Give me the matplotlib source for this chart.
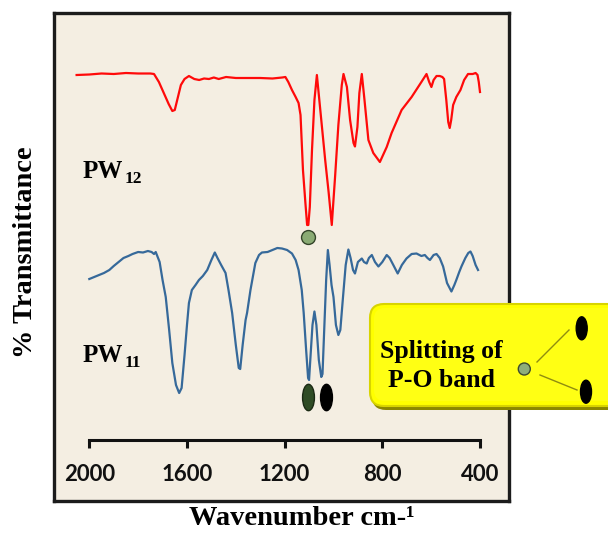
import matplotlib
matplotlib.use("Agg")
import matplotlib.pyplot as plt
from matplotlib.patches import FancyBboxPatch, Circle, Ellipse
from matplotlib.lines import Line2D
from matplotlib.path import Path
from matplotlib.transforms import IdentityTransform
import numpy as np

# ---------------- data ----------------
red_wn = [2052, 2000, 1950, 1900, 1850, 1800, 1750, 1735, 1715, 1695, 1675, 1660, 1650, 1640,
          1625, 1610, 1592, 1570, 1550, 1530, 1510, 1490, 1470, 1440, 1400, 1350, 1300, 1250,
          1210, 1197, 1185, 1170, 1155, 1143, 1135, 1125, 1115, 1108, 1103, 1097, 1088, 1078,
          1068, 1060, 1048, 1034, 1020, 1007, 1000, 993, 980, 966, 959, 945, 932, 918, 912,
          902, 894, 884, 873, 857, 837, 810, 782, 762, 721, 680, 640, 619, 608, 599, 590, 578,
          565, 554, 547, 538, 530, 524, 518, 510, 497, 480, 465, 449, 430, 418, 410, 405, 400]
red_T = [88.0, 88.1, 88.3, 88.2, 88.4, 88.3, 88.3, 88.2, 86.6, 84.4, 82.2, 80.8, 81.0, 83.0,
         86.0, 87.2, 87.8, 87.2, 87.0, 87.3, 87.2, 87.5, 87.2, 87.6, 87.4, 87.4, 87.4, 87.3,
         87.5, 87.6, 86.6, 85.0, 83.6, 82.4, 80.0, 69.0, 62.4, 58.0, 58.0, 61.6, 73.0, 83.0,
         88.0, 84.0, 78.0, 71.0, 64.6, 58.0, 63.0, 68.0, 78.0, 86.0, 88.2, 85.6, 79.0, 74.4, 73.7,
         77.6, 84.4, 88.2, 83.0, 75.0, 72.4, 70.6, 73.6, 76.4, 81.0, 83.6, 86.6, 88.2, 86.6, 85.6, 87.0, 87.8,
         87.8, 87.6, 87.2, 83.0, 78.6, 77.4, 79.0, 82.0, 83.6, 85.0, 87.0, 88.2, 88.2, 88.4, 88.0, 86.6, 84.6]

blue_wn = [2000, 1980, 1960, 1940, 1918, 1900, 1880, 1860, 1840, 1823, 1800, 1780, 1760, 1745,
           1735, 1728, 1712, 1700, 1687, 1673, 1660, 1645, 1632, 1622, 1610, 1600, 1592, 1580,
           1565, 1551, 1535, 1517, 1500, 1486, 1475, 1460, 1442, 1430, 1415, 1400, 1388, 1382,
           1372, 1360, 1354, 1340, 1320, 1305, 1293, 1270, 1250, 1230, 1211, 1190, 1170, 1155,
           1143, 1130, 1122, 1112, 1104, 1100, 1095, 1086, 1078, 1070, 1060, 1050, 1045, 1038,
           1030, 1023, 1016, 1008, 1000, 990, 980, 972, 962, 950, 939, 930, 920, 912, 900, 884,
           875, 864, 855, 843, 830, 816, 800, 782, 770, 755, 737, 720, 701, 680, 660, 640, 626,
           615, 605, 590, 578, 565, 551, 535, 517, 505, 497, 485, 476, 460, 448, 439, 430, 418, 408]
blue_T = [47.2, 47.6, 48.0, 48.4, 49.0, 49.8, 50.6, 51.4, 51.8, 52.2, 52.6, 52.5, 52.8, 52.6,
          52.2, 52.6, 50.6, 47.0, 43.6, 37.0, 30.4, 26.0, 24.4, 25.4, 32.0, 38.0, 42.4, 45.0,
          46.0, 47.0, 47.8, 49.0, 51.0, 52.5, 51.4, 50.0, 48.4, 45.0, 40.4, 34.0, 29.4, 29.2,
          34.0, 39.0, 40.4, 45.0, 50.4, 52.0, 52.5, 52.6, 53.0, 53.4, 53.3, 53.0, 52.3, 51.0,
          49.0, 45.0, 40.4, 33.0, 27.4, 27.0, 31.0, 38.0, 40.7, 38.0, 31.0, 27.6, 28.2, 37.0,
          47.0, 53.0, 50.0, 46.0, 43.6, 38.0, 36.0, 37.0, 43.0, 50.0, 53.1, 51.4, 49.0, 48.3, 50.6, 51.3,
          50.6, 50.3, 51.4, 52.0, 50.6, 49.7, 50.6, 52.0, 51.4, 50.0, 48.3, 50.0, 51.3, 52.2, 52.3, 51.8, 52.0,
          51.4, 51.0, 52.0, 52.2, 51.4, 49.7, 46.4, 44.7, 46.0, 47.0, 48.6, 49.7, 51.4, 52.4, 52.7, 51.8, 50.0, 49.0]

x_ticks = [2000, 1600, 1200, 800, 400]
x_ticklabels = ["2000", "1600", "1200", "800", "400"]
series_labels = ["PW", "12", "PW", "11"]
po_single_wn, po_single_T = [1103], [55.7]
po_split_wn, po_split_T = [1104, 1031], [23.6, 23.6]

# ---------------- figure ----------------
W, H = 608, 536
fig = plt.figure(figsize=(W / 100, H / 100), dpi=100)
fig.patch.set_facecolor("white")

rect = [54 / W, 35 / H, 455 / W, 488 / H]
fa = fig.add_axes(rect)
fa.set_facecolor("#f4eee2")
fa.set_xticks([]); fa.set_yticks([])
for s in fa.spines.values():
    s.set_linewidth(2.4)
    s.set_color("#1c1c1c")

ax = fig.add_axes(rect)
ax.patch.set_alpha(0)
ax.set_xlim(2144.6, 281.2)
ax.set_ylim(2.8, 100.4)
for k in ("left", "top", "right"):
    ax.spines[k].set_visible(False)
ax.spines["bottom"].set_position(("data", 15.0))
ax.spines["bottom"].set_bounds(400, 2000)
ax.spines["bottom"].set_linewidth(2.2)
ax.spines["bottom"].set_color("#111111")
ax.set_yticks([])
ax.set_xticks(x_ticks)
ax.set_xticklabels(x_ticklabels, fontfamily="Lato", fontweight="bold", fontsize=16)
ax.tick_params(axis="x", direction="out", length=6, width=2.2, pad=11, colors="#111111")

ax.plot(red_wn, red_T, color="#ff0a0a", lw=1.6, solid_joinstyle="round")
ax.plot(blue_wn, blue_T, color="#36699a", lw=1.6, solid_joinstyle="round")

# markers
ax.plot(po_single_wn, po_single_T, "o", ms=10, mfc="#8aab74", mec="#34452a", mew=1.0, zorder=5)
circ = Path.unit_circle()
ell = Path(circ.vertices * np.array([0.45, 1.0]), circ.codes)
ax.plot(po_split_wn[:1], po_split_T[:1], marker=ell, ms=19, mfc="#2f4c25", mec="#1b2a14",
        ls="none", zorder=5)
ax.plot(po_split_wn[1:], po_split_T[1:], marker=ell, ms=19, mfc="#000000", mec="#000000",
        ls="none", zorder=5)

serif = "Liberation Serif"

def px(x, y):
    return x / W, 1 - y / H

# series labels
fig.text(*px(82.7, 178), series_labels[0], fontfamily=serif, fontweight="bold", fontsize=18, va="baseline")
fig.text(*px(124.5, 183), series_labels[1], fontfamily=serif, fontweight="bold", fontsize=12.5, va="baseline")
fig.text(*px(82.7, 361.7), series_labels[2], fontfamily=serif, fontweight="bold", fontsize=18, va="baseline")
fig.text(*px(124.5, 367), series_labels[3], fontfamily=serif, fontweight="bold", fontsize=12.5, va="baseline")

# axis titles
fig.text(*px(26, 252), "% Transmittance", rotation=90, ha="center", va="center",
         fontfamily=serif, fontweight="bold", fontsize=20.5)
fig.text(*px(301.7, 525), "Wavenumber cm-¹", ha="center", va="baseline",
         fontfamily=serif, fontweight="bold", fontsize=20.5)

# callout box (pixel coords, origin bottom-left)
I = IdentityTransform()
shadow = FancyBboxPatch((372, H - 410), 260, 100, boxstyle="round,pad=0,rounding_size=14",
                        transform=I, fc="#8c8800", ec="none", zorder=5)
fig.add_artist(shadow)
box = FancyBboxPatch((370, H - 406), 260, 102, boxstyle="round,pad=0,rounding_size=14",
                     transform=I, fc="#ffff00", ec="#d8d400", lw=1.5, zorder=6)
fig.add_artist(box)
inner = FancyBboxPatch((374, H - 401), 250, 93, boxstyle="round,pad=0,rounding_size=11",
                       transform=I, fc="#ffff14", ec="none", zorder=6)
fig.add_artist(inner)
fig.text(*px(441.5, 358), "Splitting of", ha="center", va="baseline", fontfamily=serif,
         fontweight="bold", fontsize=18.5, zorder=8)
fig.text(*px(441.5, 386.7), "P-O band", ha="center", va="baseline", fontfamily=serif,
         fontweight="bold", fontsize=18.5, zorder=8)
fig.add_artist(Line2D([537, 569], [H - 362, H - 330], transform=I, color="#8f8c10", lw=1.0, zorder=7))
fig.add_artist(Line2D([540, 577], [H - 375, H - 390], transform=I, color="#8f8c10", lw=1.0, zorder=7))
fig.add_artist(Circle((524.3, H - 369), 6, transform=I, fc="#8fae7a", ec="#3c4a30", lw=1.0, zorder=8))
fig.add_artist(Ellipse((581.7, H - 328.3), 11, 23, transform=I, fc="black", ec="black", zorder=8))
fig.add_artist(Ellipse((586, H - 391.7), 11, 23, transform=I, fc="black", ec="black", zorder=8))

fig.savefig("out.png", dpi=100)
